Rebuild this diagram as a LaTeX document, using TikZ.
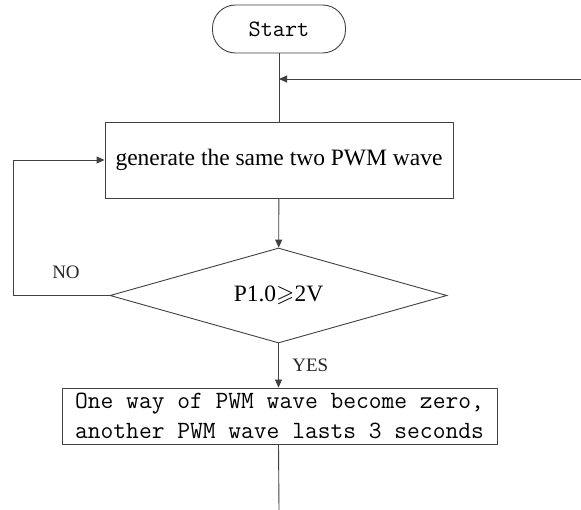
\documentclass[tikz,border=0pt]{standalone}
\usepackage{fontspec}
\setmainfont{Liberation Serif}
\usepackage{amsmath}
\usepackage{amssymb}
\usetikzlibrary{shapes.geometric, arrows.meta, positioning, calc}

\begin{document}
\begin{tikzpicture}[
  x=1pt, y=-1pt,
  line width=0.9pt,
  fbox/.style={rectangle, draw=black!75, line width=0.9pt, inner sep=0pt},
  termbox/.style={fbox, rounded corners=23pt, minimum width=133pt,
               minimum height=48pt, font=\ttfamily\fontsize{23.5}{26}\selectfont},
  procbox/.style={fbox, minimum width=348pt, minimum height=76pt,
               font=\fontsize{23.5}{28}\selectfont},
  actbox/.style={fbox, minimum width=435pt, minimum height=56pt,
               align=center, font=\ttfamily\fontsize{24.8}{30}\selectfont},
  decbox/.style={diamond, draw=black!75, line width=0.9pt, aspect=3.5, inner sep=0pt,
               minimum width=337pt, minimum height=95pt,
               font=\fontsize{23.5}{28}\selectfont},
  arr/.style={-{Triangle[length=8pt,width=7pt]}, draw=black!75},
  lbl/.style={font=\fontsize{19}{22}\selectfont, text=black!85}
]
\useasboundingbox (0,0) rectangle (581,510);

%% --- Main column ---
\node[termbox] (start) at (279,29)    {Start};
\node[procbox] (gen)   at (279,160)   {generate the same two PWM wave};
\node[decbox]  (cond)  at (278.5,295.5) {P1.0$\geqslant$2V};
\node[actbox]  (act)   at (279.5,416) {One way of PWM wave become zero,\\another PWM wave lasts 3 seconds};

\coordinate (back) at (581,79);
\coordinate (loop) at (13,295.5);
\coordinate (tail) at (279,510);

\draw[draw=black!75] (start) -- (gen);
\draw[arr] (back) -- (back -| start);
\draw[arr] (gen) -- (cond);
\draw[arr] (cond.south) -- node[lbl, right=10pt] {YES} (act.north -| cond.south);
\draw[draw=black!75] (act.south -| cond.south) -- (tail);

%% --- NO branch back to the top box ---
\draw[arr] (cond.west) -- (loop) |- (gen.west);
\node[lbl] (no) at (66,272) {NO};

\end{tikzpicture}
\end{document}
